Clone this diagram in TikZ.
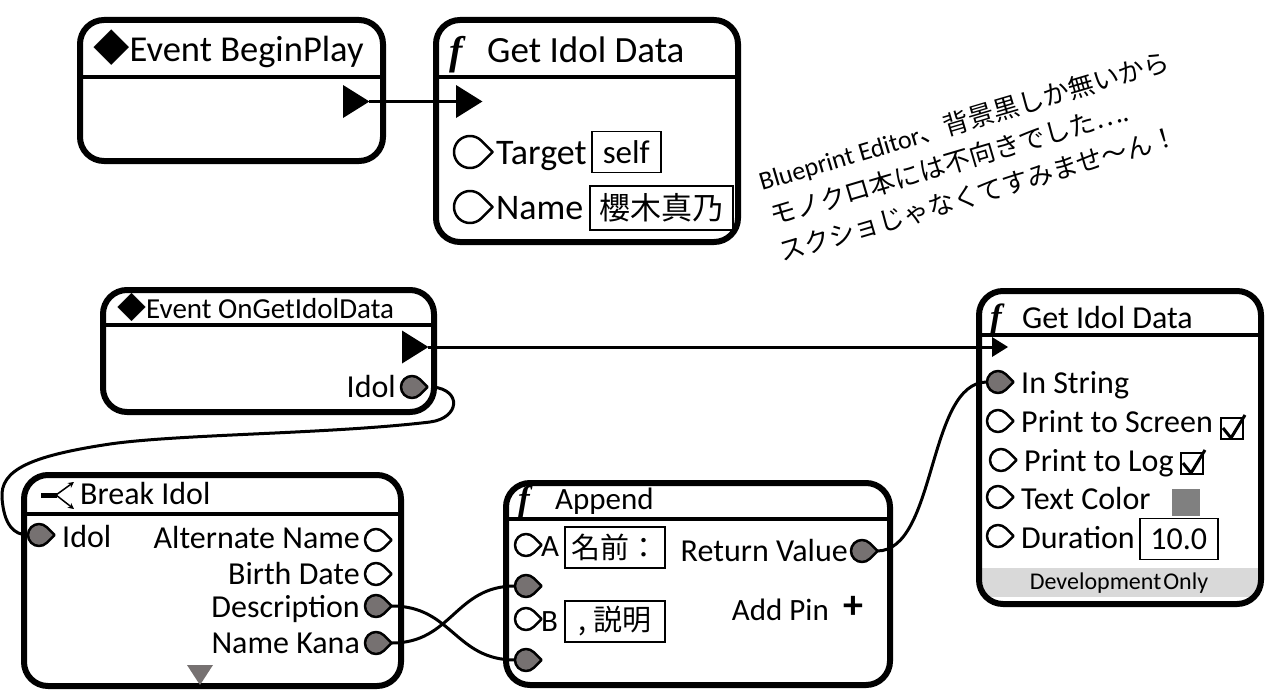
\documentclass[tikz,border=0pt]{standalone}
\usepackage{fontspec}
\setmainfont{Carlito}
\newfontfamily\jpfont{Noto Sans CJK JP}
\newfontfamily\fnfont{Liberation Serif}
\usetikzlibrary{arrows.meta}
\definecolor{PinGray}{RGB}{118,113,113}
\definecolor{SwatchGray}{RGB}{128,128,128}
\definecolor{DevGray}{RGB}{217,217,217}
\newcommand{\pxfont}[1]{\fontsize{#1}{#1}\selectfont}
\tikzset{
  bpnode/.style={line width=6pt, rounded corners=24pt},
  bpbar/.style={line width=4pt},
  wire/.style={line width=3pt},
  title/.style={anchor=base west, inner sep=0pt},
  rtitle/.style={anchor=base east, inner sep=0pt},
  valbox/.style={draw, line width=1.5pt, inner sep=0pt, anchor=west},
  cmt/.style={anchor=base west, inner sep=0pt, rotate=16.5, font=\pxfont{26}},
  pics/datapin/.style={code={
    \draw[pic actions, line width=2.5pt, line join=round]
      (45:#1) arc[start angle=45, end angle=315, radius=#1] -- (1.414*#1,0) -- cycle;
    \coordinate (-out) at (1.414*#1,0);
    \coordinate (-in) at (-#1,0);
  }},
  pics/execpin/.style={code={
    \fill (0,-#1) -- (0,#1) -- (1.6*#1,0) -- cycle;
    \coordinate (-in) at (0,0);
    \coordinate (-out) at (1.6*#1,0);
  }},
  pics/checkbox/.style={code={
    \draw[line width=1.5pt] (0,0) rectangle (22,21);
    \draw[line width=3pt, line join=round] (2,10) -- (10,20) -- (24,-3);
  }},
}

\begin{document}
\begin{tikzpicture}[x=1pt, y=-1pt]
\useasboundingbox (0,0) rectangle (1268,693);

% Event BeginPlay
\draw[bpnode] (80,20) rectangle (383,161);
\draw[bpbar] (80,77) -- (383,77);
\node[title, font=\pxfont{36.5}] (bptitle) at (93,62) {{\jpfont ◆}Event BeginPlay};
\pic (bpexec) at (343,101.5) {execpin=16.5};

% Get Idol Data (top)
\draw[bpnode] (436,20) rectangle (738,242);
\draw[bpbar] (436,77) -- (738,77);
\node[title, font=\pxfont{40}] (gidf) at (449,64) {{\fnfont\bfseries\itshape f}};
\node[title, font=\pxfont{37}] (gidtitle) at (487,63) {Get Idol Data};
\pic (gidexec) at (456,101.5) {execpin=16.5};
\pic[fill=white] (gidtgt) at (470,152) {datapin=16};
\node[title, font=\pxfont{36}] (tgtlabel) at (496,164) {Target};
\node[valbox, minimum width=69pt, minimum height=41pt, font=\pxfont{33}] (selfbox) at (591,152) {self};
\pic[fill=white] (gidname) at (470,207) {datapin=16};
\node[title, font=\pxfont{36}] (namelabel) at (496,219) {Name};
\node[valbox, minimum width=143pt, minimum height=44pt, font=\jpfont\pxfont{31}] (namebox) at (589,208) {櫻木真乃};

% comment
\node[cmt] (cmt1) at (762,191) {Blueprint Editor{\jpfont 、背景黒しか無いから}};
\node[cmt] (cmt2) at (773,226) {{\jpfont モノクロ本には不向きでした….}};
\node[cmt] (cmt3) at (782,262) {{\jpfont スクショじゃなくてすみませ～ん！}};

% Event OnGetIdolData
\draw[bpnode] (103,290) rectangle (434,412);
\draw[bpbar] (103,325) -- (434,325);
\node[title, font=\pxfont{29}] (ogtitle) at (117,318) {{\jpfont ◆}Event OnGetIdolData};
\pic (ogexec) at (402,347) {execpin=16.5};
\node[rtitle, font=\pxfont{32}] (ogidollabel) at (396,397) {Idol};

% Get Idol Data (right)
\fill[DevGray] (982,568) rectangle (1258,597);
\node[font=\pxfont{24}, inner sep=0pt] (devonly) at (1119,583) {Development\hspace{2pt}Only};
\draw[bpnode] (979,291) rectangle (1261,604);
\draw[bpbar] (979,335) -- (1262,335);
\node[title, font=\pxfont{35}] (gid2f) at (990,328) {{\fnfont\bfseries\itshape f}};
\node[title, font=\pxfont{32}] (gid2title) at (1022,328) {Get Idol Data};
\pic (gid2exec) at (992,347) {execpin=10};
\node[title, font=\pxfont{32}] (instrlabel) at (1021,393) {In String};
\node[title, font=\pxfont{32}] (screenlabel) at (1021,432) {Print to Screen};
\pic at (1221,418) {checkbox};
\node[title, font=\pxfont{32}] (loglabel) at (1024,471) {Print to Log};
\pic at (1181,453) {checkbox};
\node[title, font=\pxfont{32}] (colorlabel) at (1021,509) {Text Color};
\fill[SwatchGray] (1172,489) rectangle (1200,516);
\node[title, font=\pxfont{32}] (durlabel) at (1021,548) {Duration};
\node[valbox, minimum width=78pt, minimum height=41pt, font=\pxfont{32}] (durbox) at (1139,539) {10.0};

% Break Idol
\draw[bpnode] (24,475) rectangle (401,686);
\draw[bpbar] (24,514) -- (401,514);
\draw[line width=5pt] (41,495) -- (57,495);
\draw[line width=1.5pt, -{Stealth[length=6pt,width=6pt]}] (56,495) -- (74,482);
\draw[line width=1.5pt, -{Stealth[length=6pt,width=6pt]}] (56,495) -- (74,509);
\node[title, font=\pxfont{32}] (bititle) at (80,504) {Break Idol};
\node[title, font=\pxfont{32}] (biidollabel) at (62,547) {Idol};
\node[rtitle, font=\pxfont{32}] (altlabel) at (360,548) {Alternate Name};
\node[rtitle, font=\pxfont{32}] (birthlabel) at (360,584) {Birth Date};
\node[rtitle, font=\pxfont{32}] (desclabel) at (360,617) {Description};
\node[rtitle, font=\pxfont{32}] (kanalabel) at (360,653) {Name Kana};
\fill[PinGray] (187,665) -- (213,665) -- (200,685) -- cycle;

% Append
\draw[bpnode] (506,483) rectangle (890,685);
\draw[bpbar] (506,519) -- (893,519);
\node[title, font=\pxfont{35}] (appf) at (518,510) {{\fnfont\bfseries\itshape f}};
\node[title, font=\pxfont{31}] (apptitle) at (555,509) {Append};
\node[title, font=\pxfont{31}] (alabel) at (541,556) {A};
\node[valbox, minimum width=100pt, minimum height=41pt, font=\jpfont\pxfont{29}] (abox) at (564,547.5) {名前：};
\node[title, font=\pxfont{31}] (blabel) at (541,631) {B};
\node[valbox, minimum width=100pt, minimum height=41pt, font=\jpfont\pxfont{29}] (bbox) at (564,621.5) {, 説明};
\node[rtitle, font=\pxfont{32}] (retlabel) at (848,561) {Return Value};
\node[rtitle, font=\pxfont{31}] (addlabel) at (829,620) {Add Pin};
\node[font=\pxfont{40}\bfseries, inner sep=0pt] (addplus) at (853,607) {+};

% wires
\draw[wire] (bpexec-out) -- (gidexec-in);
\draw[wire] (ogexec-out) -- (gid2exec-in);
\draw[wire] (433,387) .. controls (462,390) and (460,418) .. (430,422)
  .. controls (330,434) and (180,434) .. (110,444)
  .. controls (30,456) and (0,470) .. (2,498)
  .. controls (4,525) and (14,535) .. (28,535);
\draw[wire] (392,606) .. controls +(60,0) and +(-60,0) .. (515,660);
\draw[wire] (392,643) .. controls +(60,0) and +(-60,0) .. (515,586);
\draw[wire] (877,551) .. controls +(60,0) and +(-60,0) .. (987,382);

% pins
\pic[fill=PinGray] (ogidol) at (412,387) {datapin=11};
\pic[fill=PinGray] (instr) at (998,382) {datapin=11};
\pic[fill=white] (prscreen) at (998,421) {datapin=11};
\pic[fill=white] (prlog) at (1001,460) {datapin=11};
\pic[fill=white] (txtcolor) at (998,497) {datapin=11};
\pic[fill=white] (duration) at (998,536) {datapin=11};
\pic[fill=PinGray] (biidol) at (39,535) {datapin=11};
\pic[fill=white] (altname) at (376,540) {datapin=11};
\pic[fill=white] (birth) at (376,574) {datapin=11};
\pic[fill=PinGray] (desc) at (376,606) {datapin=11};
\pic[fill=PinGray] (kana) at (376,643) {datapin=11};
\pic[fill=white] (appa) at (526,545) {datapin=11};
\pic[fill=PinGray] (appa2) at (526,586) {datapin=11};
\pic[fill=white] (appb) at (526,619) {datapin=11};
\pic[fill=PinGray] (appb2) at (526,660) {datapin=11};
\pic[fill=PinGray] (retval) at (862,551) {datapin=11};
\end{tikzpicture}
\end{document}
